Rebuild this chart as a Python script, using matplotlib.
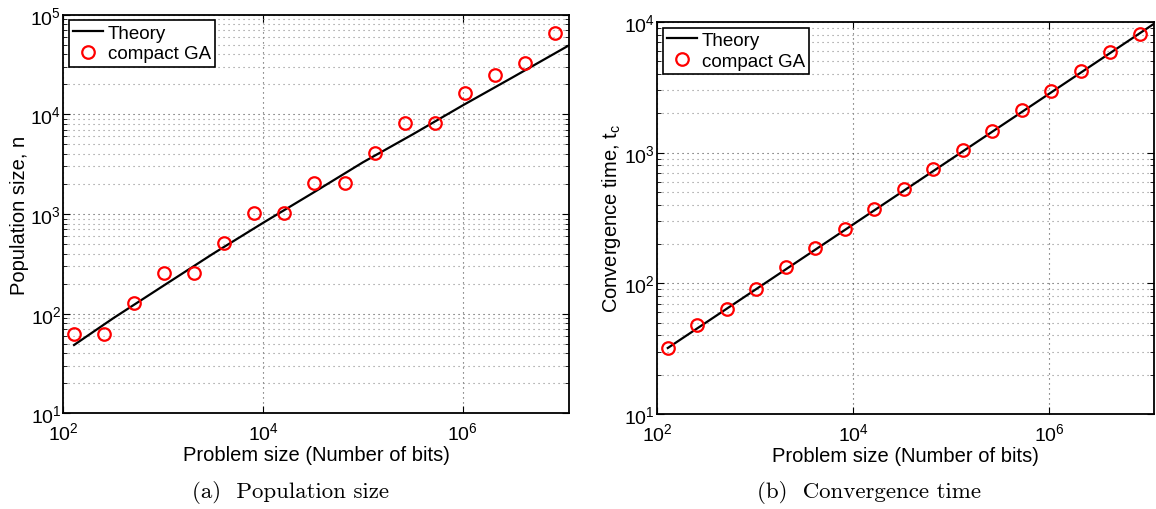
import matplotlib
matplotlib.use('Agg')
import matplotlib.pyplot as plt
import matplotlib.ticker as ticker

plt.rcParams['font.family'] = 'Liberation Sans'
plt.rcParams['mathtext.fontset'] = 'custom'
plt.rcParams['mathtext.rm'] = 'Liberation Sans'
plt.rcParams['mathtext.it'] = 'Liberation Sans:italic'
plt.rcParams['mathtext.default'] = 'regular'
plt.rcParams['font.size'] = 14.5
plt.rcParams['xtick.direction'] = 'in'
plt.rcParams['ytick.direction'] = 'in'
plt.rcParams['xtick.top'] = True
plt.rcParams['ytick.right'] = True
plt.rcParams['axes.linewidth'] = 1.3

# problem sizes (bits), 2^7 ... 2^23
problem_size = [128, 256, 512, 1024, 2048, 4096, 8192, 16384, 32768, 65536,
                131072, 262144, 524288, 1048576, 2097152, 4194304, 8388608]

# (a) population size
pop_cga = [62, 62, 127, 254, 254, 510, 1016, 1016, 2040, 2040,
           4070, 8130, 8130, 16200, 24800, 32700, 65400]
pop_theory_x = [128, 316, 1000, 3162, 10000, 31623, 1e5, 3.16e5, 1e6, 3.16e6, 1.17e7]
pop_theory = [48.5, 90, 190, 400, 815, 1630, 3300, 6300, 12300, 23500, 49500]

# (b) convergence time
tc_cga = [32, 48, 64, 90, 133, 186, 259, 372, 528, 750,
          1054, 1472, 2118, 2974, 4180, 5940, 8150]
tc_theory_x = [128, 1000, 10000, 1e5, 1e6, 1.17e7]
tc_theory = [32, 89.4, 283, 894, 2830, 9700]

xticks = [1e2, 1e4, 1e6]


def style_axes(ax, ylim):
    ax.set_xscale('log')
    ax.set_yscale('log')
    ax.set_xlim(100, 1.17e7)
    ax.set_ylim(*ylim)
    ax.set_xticks(xticks)
    ax.xaxis.set_minor_locator(ticker.NullLocator())
    ax.yaxis.set_major_locator(ticker.LogLocator(base=10, numticks=20))
    ax.yaxis.set_minor_locator(ticker.LogLocator(base=10, subs=range(2, 10), numticks=50))
    ax.yaxis.set_minor_formatter(ticker.NullFormatter())
    ax.tick_params(which='major', length=5, width=0.8, labelsize=14)
    ax.tick_params(which='minor', length=3, width=0.6)
    ax.tick_params(axis='x', pad=6)
    ax.tick_params(axis='y', pad=1.5)
    ax.set_axisbelow(True)
    ax.grid(True, which='major', axis='both', ls=(0, (1, 3.5)), color='0.3', lw=0.8)
    ax.grid(True, which='minor', axis='y', ls=(0, (1, 3.5)), color='0.55', lw=0.8)
    ax.set_xlabel('Problem size (Number of bits)', labelpad=1)


def add_legend(ax):
    leg = ax.legend(loc='upper left', borderaxespad=0.3, handlelength=1.6,
                    handletextpad=0.25, labelspacing=0.2, borderpad=0.22,
                    numpoints=1, fancybox=False, framealpha=1, edgecolor='black',
                    fontsize=13.5)
    leg.get_frame().set_linewidth(1.2)


fig = plt.figure(figsize=(11.56, 5.10), dpi=100)
ax1 = fig.add_axes([0.0548, 0.1876, 0.4377, 0.7816])
ax2 = fig.add_axes([0.5686, 0.1863, 0.4297, 0.7686])

ax1.plot(pop_theory_x, pop_theory, color='black', lw=1.6, label='Theory')
ax1.plot(problem_size, pop_cga, 'o', mfc='none', mec='red', ms=9, mew=1.6, label='compact GA')
style_axes(ax1, (10, 1e5))
ax1.set_ylabel('Population size, n', labelpad=1)
add_legend(ax1)

ax2.plot(tc_theory_x, tc_theory, color='black', lw=1.6, label='Theory')
ax2.plot(problem_size, tc_cga, 'o', mfc='none', mec='red', ms=9, mew=1.6, label='compact GA')
style_axes(ax2, (10, 1e4))
ax2.set_ylabel('Convergence time, t$_{c}$', labelpad=1)
add_legend(ax2)

fig.text(0.251, 0.035, '(a)  Population size', family='cmr10', fontsize=16.5, ha='center', va='center')
fig.text(0.752, 0.035, '(b)  Convergence time', family='cmr10', fontsize=16.5, ha='center', va='center')

fig.savefig('out.png', dpi=100)
